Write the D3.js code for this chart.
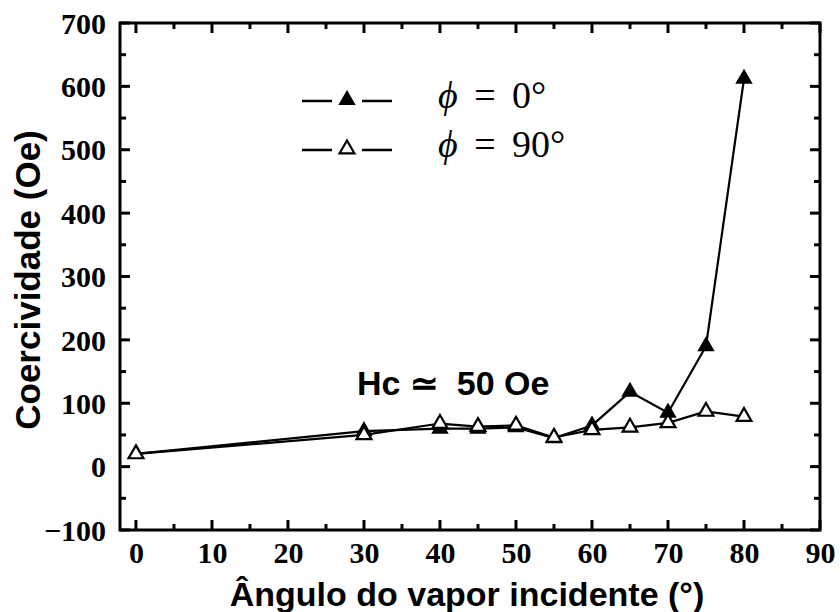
<!DOCTYPE html>
<html>
<head>
<meta charset="utf-8">
<script src="https://cdn.jsdelivr.net/npm/d3@7"></script>
<style>
  body { margin: 0; background: #fff; }
  svg { display: block; }
</style>
</head>
<body>
<svg id="chart" width="840" height="612"></svg>
<script>
// Incidence angle of the vapour (degrees)
const angles = [0, 30, 40, 45, 50, 55, 60, 65, 70, 75, 80];
// Coercivity (Oe) measured along phi = 0° and phi = 90°
const hcPhi0 = [20, 56, 60, 60, 62, 45, 65, 118, 85, 190, 612];
const hcPhi90 = [20, 50, 68, 63, 65, 46, 58, 62, 69, 87, 79];
const xTicks = [0, 10, 20, 30, 40, 50, 60, 70, 80, 90];
const yTicks = [-100, 0, 100, 200, 300, 400, 500, 600, 700];
const phiSymbol = "\u03d5";
const seriesLabels = [" = 0\u00b0", " = 90\u00b0"];

const svg = d3.select("#chart");
const plotLeft = 120, plotRight = 820, plotTop = 23, plotBottom = 530;

const x = d3.scaleLinear().domain([-2.1, 90]).range([plotLeft, plotRight]);
const y = d3.scaleLinear().domain([-100, 700]).range([plotBottom, plotTop]);

const serif = "'Liberation Serif', 'Times New Roman', serif";
const sans = "'Liberation Sans', Arial, sans-serif";

// frame
svg.append("rect")
  .attr("x", plotLeft).attr("y", plotTop)
  .attr("width", plotRight - plotLeft).attr("height", plotBottom - plotTop)
  .attr("fill", "none").attr("stroke", "#000").attr("stroke-width", 3);

// inward ticks on all four sides
const tickG = svg.append("g").attr("stroke", "#000").attr("stroke-width", 3);
d3.range(0, 91, 5).forEach(v => {
  const len = v % 10 === 0 ? 10 : 6;
  tickG.append("line").attr("x1", x(v)).attr("x2", x(v)).attr("y1", plotBottom).attr("y2", plotBottom - len);
  tickG.append("line").attr("x1", x(v)).attr("x2", x(v)).attr("y1", plotTop).attr("y2", plotTop + len);
});
d3.range(-100, 701, 50).forEach(v => {
  const len = v % 100 === 0 ? 10 : 6;
  tickG.append("line").attr("y1", y(v)).attr("y2", y(v)).attr("x1", plotLeft).attr("x2", plotLeft + len);
  tickG.append("line").attr("y1", y(v)).attr("y2", y(v)).attr("x1", plotRight).attr("x2", plotRight - len);
});

// tick labels via d3 axes (lines hidden, text kept)
const xAxis = svg.append("g").attr("transform", `translate(0,${plotBottom})`)
  .call(d3.axisBottom(x).tickValues(xTicks).tickSize(0).tickPadding(12).tickFormat(d3.format("d")));
const yAxis = svg.append("g").attr("transform", `translate(${plotLeft},0)`)
  .call(d3.axisLeft(y).tickValues(yTicks).tickSize(0).tickPadding(14).tickFormat(d3.format("d")));
[xAxis, yAxis].forEach(g => {
  g.select(".domain").remove();
  g.selectAll("text").attr("font-family", serif).attr("font-size", 30)
    .attr("font-weight", "bold").attr("fill", "#000");
});
xAxis.selectAll("text").attr("dy", "0.71em");
yAxis.selectAll("text").attr("dy", "0.34em");

// axis titles
svg.append("text").attr("x", 467).attr("y", 606)
  .attr("text-anchor", "middle").attr("font-family", sans).attr("font-weight", "bold")
  .attr("font-size", 34).text("\u00c2ngulo do vapor incidente (\u00b0)");
svg.append("text").attr("transform", "translate(40,280) rotate(-90)")
  .attr("text-anchor", "middle").attr("font-family", sans).attr("font-weight", "bold")
  .attr("font-size", 35).text("Coercividade (Oe)");

// data lines
const line = d3.line().x(d => x(d[0])).y(d => y(d[1]));
const tri = d3.symbol().type(d3.symbolTriangle).size(95);
const data0 = angles.map((a, i) => [a, hcPhi0[i]]);
const data90 = angles.map((a, i) => [a, hcPhi90[i]]);

svg.append("path").datum(data0).attr("d", line)
  .attr("fill", "none").attr("stroke", "#000").attr("stroke-width", 2.2);
svg.append("path").datum(data90).attr("d", line)
  .attr("fill", "none").attr("stroke", "#000").attr("stroke-width", 2.2);

svg.append("g").selectAll("path").data(data0).join("path")
  .attr("d", tri).attr("transform", d => `translate(${x(d[0])},${y(d[1])})`)
  .attr("fill", "#000").attr("stroke", "#000").attr("stroke-width", 1.5);
svg.append("g").selectAll("path").data(data90).join("path")
  .attr("d", tri).attr("transform", d => `translate(${x(d[0])},${y(d[1])})`)
  .attr("fill", "#fff").attr("stroke", "#000").attr("stroke-width", 2.2);

// legend
const legendRows = [{ y: 101, fill: "#000", sw: 1.5 }, { y: 150, fill: "#fff", sw: 2.2 }];
legendRows.forEach((r, i) => {
  const g = svg.append("g");
  g.append("line").attr("x1", 302).attr("x2", 332).attr("y1", r.y).attr("y2", r.y)
    .attr("stroke", "#000").attr("stroke-width", 2.5);
  g.append("line").attr("x1", 362).attr("x2", 392).attr("y1", r.y).attr("y2", r.y)
    .attr("stroke", "#000").attr("stroke-width", 2.5);
  g.append("path").attr("d", tri).attr("transform", `translate(347,${r.y - 1})`)
    .attr("fill", r.fill).attr("stroke", "#000").attr("stroke-width", r.sw);
  const t = g.append("text").attr("x", 438).attr("y", r.y + 7)
    .attr("font-family", serif).attr("font-size", 38).attr("fill", "#000")
    .style("word-spacing", "7px");
  t.append("tspan").attr("font-style", "italic").text(phiSymbol);
  t.append("tspan").text(seriesLabels[i]);
});

// annotation
svg.append("text").attr("x", 357).attr("y", 395)
  .attr("font-family", sans).attr("font-weight", "bold").attr("font-size", 34)
  .attr("xml:space", "preserve").style("white-space", "pre")
  .text("Hc \u2243  50 Oe");
</script>
</body>
</html>
